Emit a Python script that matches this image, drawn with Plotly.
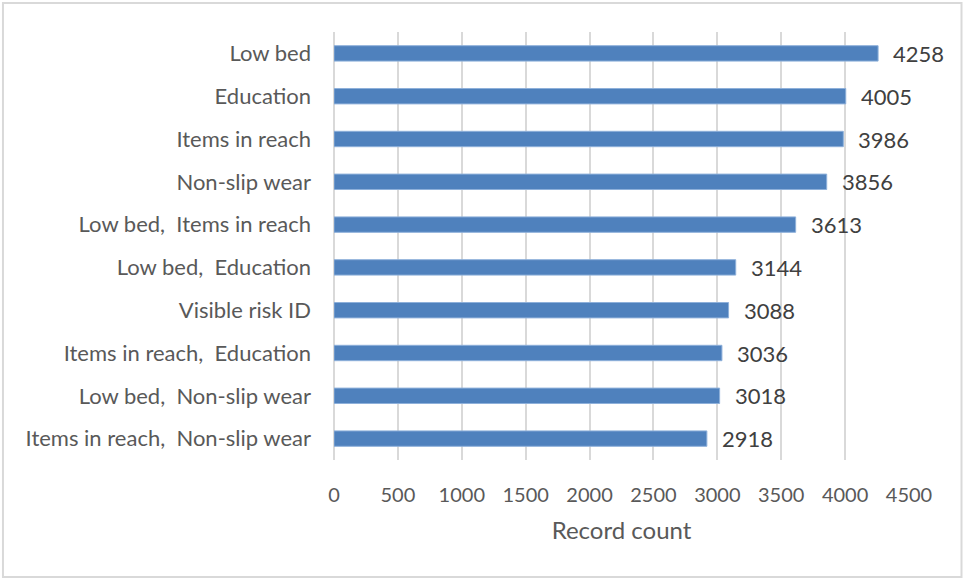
import plotly.graph_objects as go

# Fall-prevention interventions and how many records mention each
categories = [
    "Low bed",
    "Education",
    "Items in reach",
    "Non-slip wear",
    "Low bed,  Items in reach",
    "Low bed,  Education",
    "Visible risk ID",
    "Items in reach,  Education",
    "Low bed,  Non-slip wear",
    "Items in reach,  Non-slip wear",
]
counts = [4258, 4005, 3986, 3856, 3613, 3144, 3088, 3036, 3018, 2918]
x_ticks = [0, 500, 1000, 1500, 2000, 2500, 3000, 3500, 4000, 4500]

FONT = "Lato, 'Open Sans', sans-serif"
TEXT = "#595959"

fig = go.Figure(
    go.Bar(
        x=counts,
        y=categories,
        orientation="h",
        width=0.36,
        marker=dict(color="#4f81bd", line=dict(color="#8eb0da", width=1)),
        hoverinfo="x+y",
    )
)

# value labels to the right of each bar
for c, v in zip(categories, counts):
    fig.add_annotation(
        x=v, y=c, text=str(v), showarrow=False,
        xanchor="left", xshift=13, yshift=0,
        font=dict(family=FONT, size=22, color="#404040"),
    )

# light frame around the whole chart area
fig.add_shape(
    type="rect", xref="paper", yref="paper",
    x0=-0.5757, x1=1.0913, y0=-0.2734, y1=1.0678,
    line=dict(color="#d9d9d9", width=2), fillcolor="rgba(0,0,0,0)",
)

fig.update_layout(
    width=964, height=580,
    margin=dict(l=334, r=55, t=32, b=120),
    paper_bgcolor="white", plot_bgcolor="white",
    font=dict(family=FONT, size=20, color=TEXT),
    showlegend=False,
    bargap=0.6,
)
fig.update_xaxes(
    range=[0, 4500],
    tickvals=x_ticks,
    showgrid=True, gridcolor="#d9d9d9", gridwidth=2,
    zeroline=True, zerolinecolor="#d9d9d9", zerolinewidth=2,
    showline=False,
    ticks="", ticklabelstandoff=21,
    tickfont=dict(family=FONT, size=20, color=TEXT),
    title=dict(text="Record count", standoff=17,
               font=dict(family=FONT, size=24, color=TEXT)),
)
fig.update_yaxes(
    autorange="reversed",
    showgrid=False, showline=False, ticks="",
    ticklabelstandoff=22,
    tickfont=dict(family=FONT, size=22, color=TEXT),
)

fig.write_html("out.html")
